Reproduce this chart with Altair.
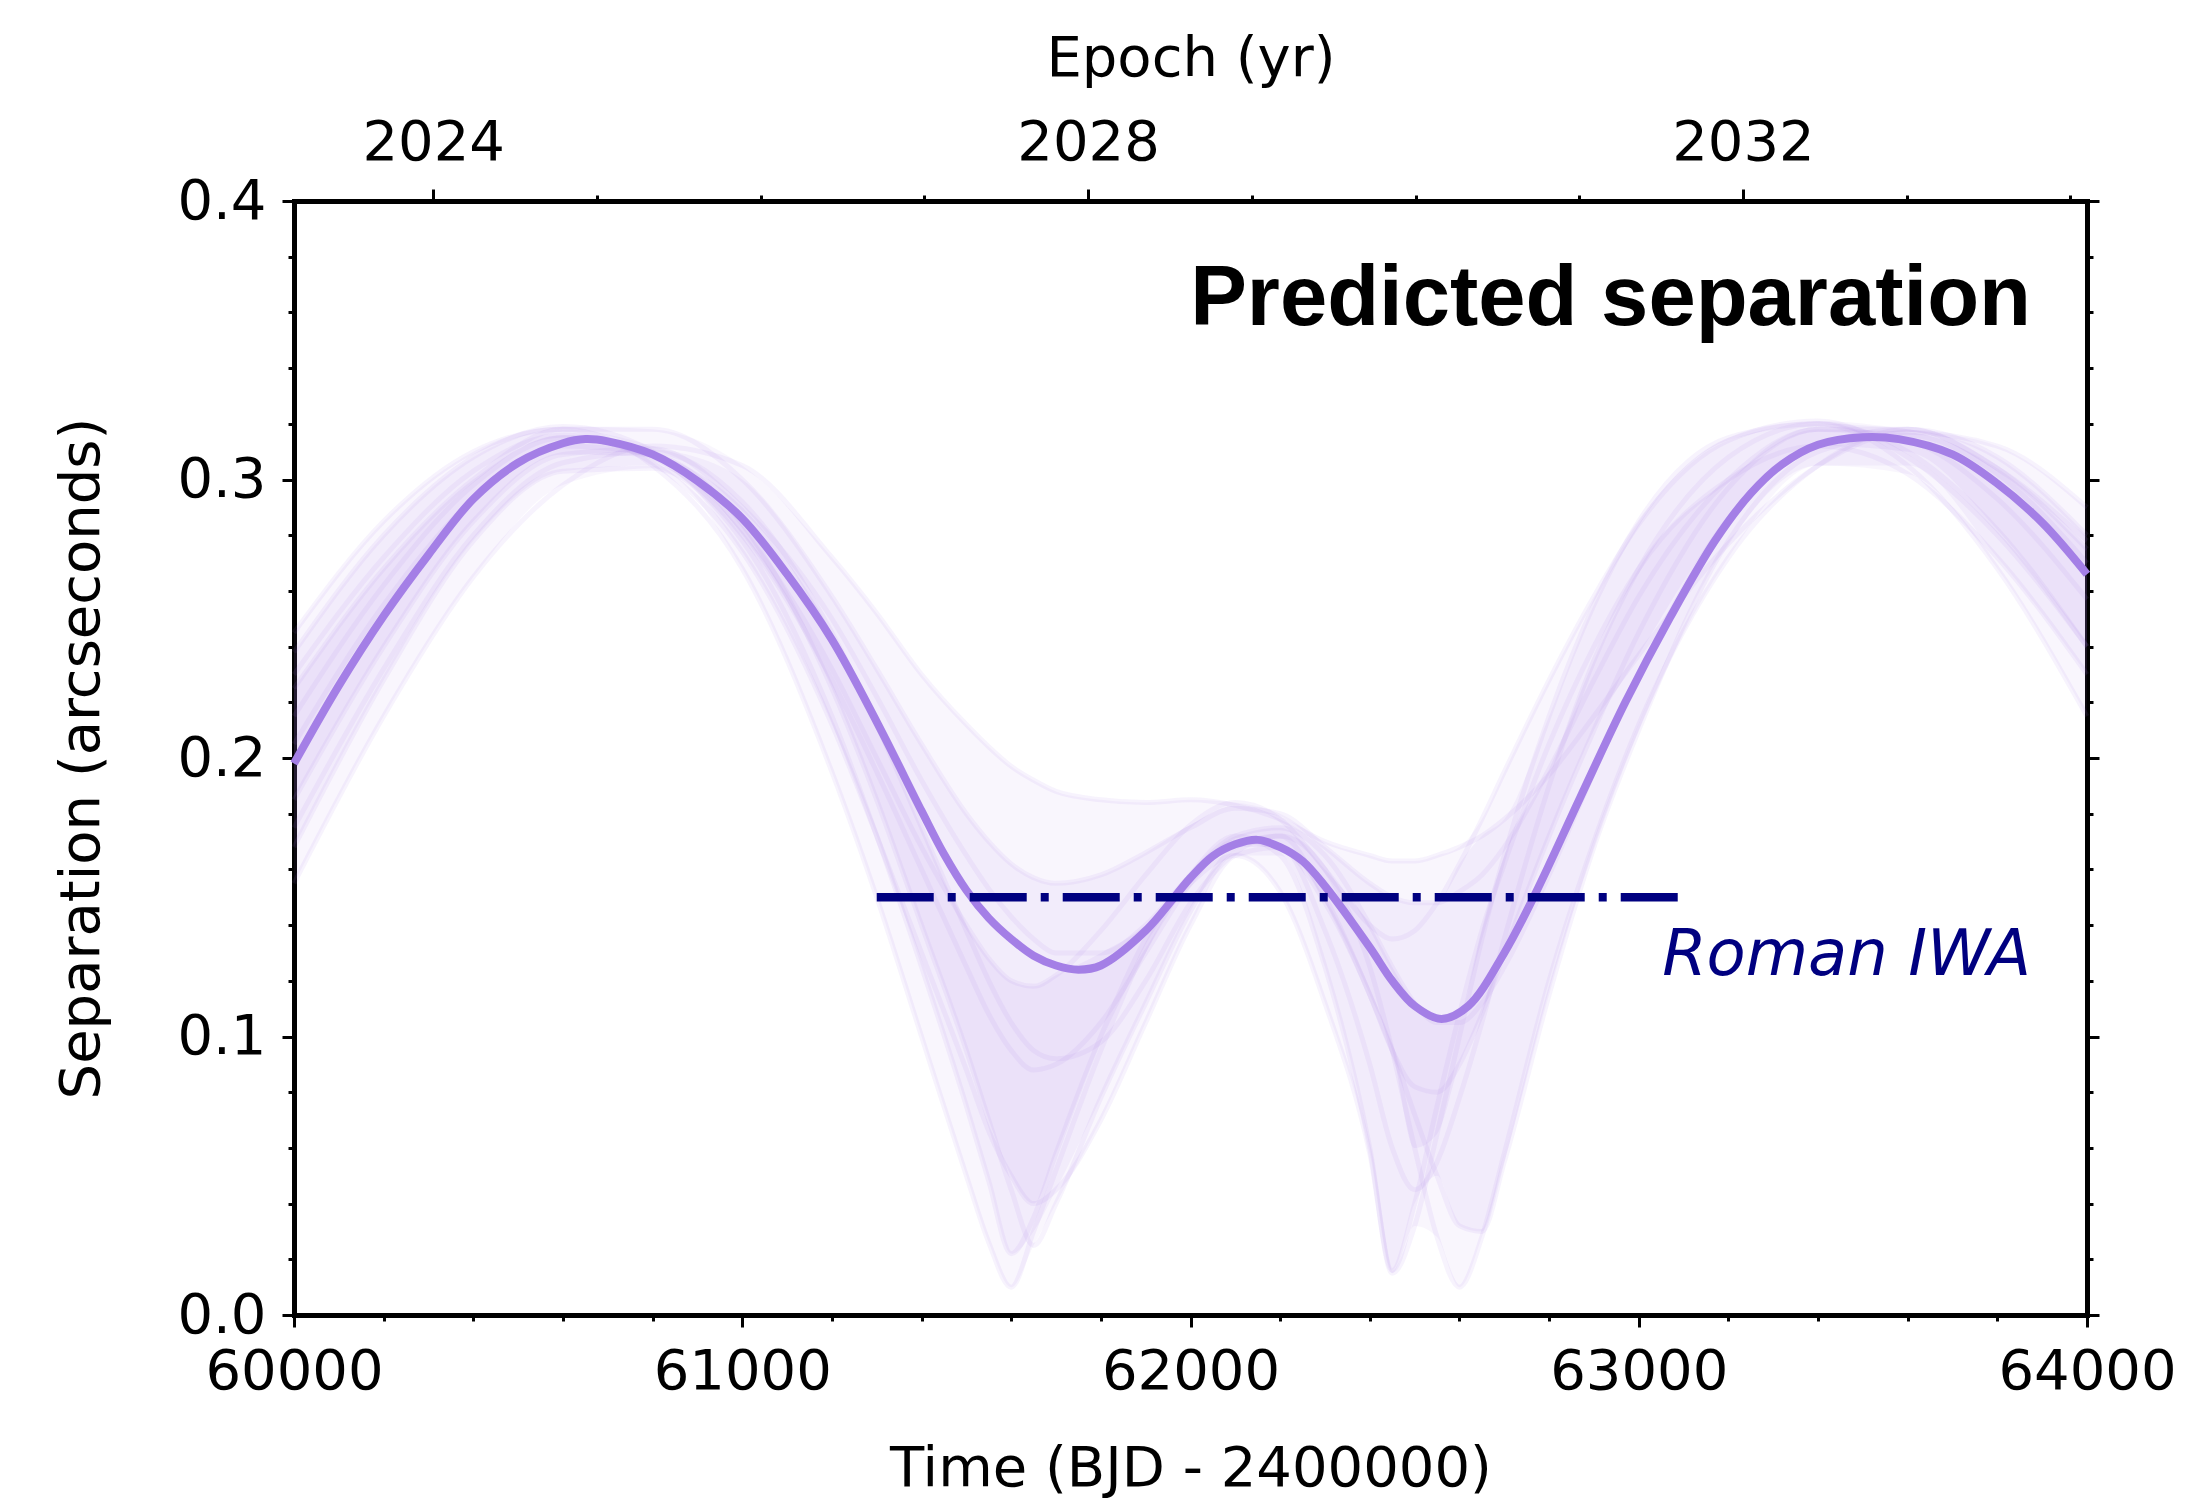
import altair as alt
import pandas as pd

# ---------------- data ----------------
main_days = [60000, 60100, 60200, 60300, 60400, 60500, 60600, 60650, 60700, 60800,
             60900, 61000, 61100, 61200, 61300, 61400, 61450, 61500, 61550, 61600,
             61650, 61700, 61750, 61800, 61900, 62000, 62050, 62100, 62150, 62200,
             62250, 62300, 62400, 62450, 62500, 62560, 62620, 62700, 62770, 62870,
             62970, 63070, 63170, 63250, 63320, 63400, 63500, 63580, 63700, 63800,
             63900, 64000]
main_sep = [0.198, 0.226, 0.251, 0.273, 0.293, 0.306, 0.313, 0.3145, 0.3137, 0.309,
            0.2995, 0.286, 0.266, 0.2425, 0.213, 0.181, 0.1655, 0.1525, 0.1425, 0.135,
            0.129, 0.1255, 0.124, 0.1255, 0.138, 0.157, 0.1648, 0.169, 0.1706, 0.168,
            0.163, 0.154, 0.132, 0.120, 0.111, 0.1063, 0.111, 0.130, 0.1515, 0.186,
            0.220, 0.2505, 0.278, 0.295, 0.3055, 0.3125, 0.3152, 0.3145, 0.309, 0.2985,
            0.2845, 0.266]

sample_days = [60000, 60200, 60400, 60600, 60800, 61000, 61200, 61300, 61400, 61500,
               61550, 61600, 61650, 61700, 61800, 61900, 62000, 62100, 62200, 62300,
               62400, 62450, 62500, 62550, 62600, 62650, 62700, 62800, 62900, 63000,
               63200, 63400, 63600, 63800, 64000]
sample_1 = [.245, .285, .310, .318, .305, .268, .195, .150, .100, .050, .026, .010, .030, .052, .095,
            .132, .158, .172, .165, .125, .060, .015, .032, .065, .100, .135, .165, .215, .255, .285,
            .315, .320, .305, .268, .215]
sample_2 = [.155, .215, .265, .298, .312, .305, .272, .252, .230, .212, .204, .197, .192, .188, .185,
            .184, .185, .183, .178, .170, .165, .163, .163, .165, .168, .172, .178, .194, .215, .237,
            .277, .305, .317, .312, .290]
sample_3 = [.215, .262, .298, .315, .308, .280, .228, .195, .160, .125, .108, .095, .088, .090, .105,
            .130, .155, .170, .168, .148, .115, .095, .082, .080, .090, .108, .130, .172, .210, .245,
            .297, .318, .314, .293, .257]
sample_4 = [.175, .232, .280, .306, .310, .292, .245, .212, .175, .138, .120, .105, .095, .092, .098,
            .120, .148, .166, .172, .160, .125, .095, .060, .028, .010, .028, .058, .120, .170, .212,
            .272, .305, .318, .308, .280]
sample_5 = [.230, .272, .303, .316, .306, .274, .212, .172, .130, .088, .066, .050, .040, .045, .070,
            .105, .140, .165, .168, .138, .090, .060, .045, .055, .078, .105, .135, .190, .235, .268,
            .308, .320, .310, .282, .240]
sample_6 = [.185, .240, .285, .309, .311, .290, .250, .222, .192, .165, .153, .143, .135, .130, .130,
            .140, .158, .172, .175, .165, .140, .125, .112, .105, .105, .112, .125, .158, .195, .230,
            .286, .312, .318, .304, .275]
sample_7 = [.205, .255, .293, .312, .309, .284, .225, .185, .140, .095, .070, .045, .025, .040, .078,
            .112, .145, .168, .172, .150, .115, .095, .072, .050, .032, .030, .055, .115, .168, .210,
            .278, .310, .316, .302, .270]
sample_8 = [.225, .268, .300, .318, .318, .300, .258, .232, .205, .180, .170, .162, .157, .155, .158,
            .166, .175, .182, .180, .168, .155, .150, .148, .148, .152, .158, .168, .196, .228, .258,
            .300, .318, .318, .304, .278]
sample_9 = [.238, .280, .308, .319, .310, .282, .232, .200, .168, .140, .128, .120, .118, .122, .138,
            .158, .176, .184, .178, .160, .140, .135, .138, .148, .162, .178, .195, .228, .258, .284,
            .314, .321, .308, .280, .240]
sample_10 = [.168, .228, .278, .303, .304, .278, .215, .172, .125, .075, .048, .022, .035, .058, .100,
             .135, .155, .165, .152, .112, .058, .016, .040, .075, .108, .138, .162, .205, .240, .268,
             .300, .312, .302, .272, .230]
samples = [sample_1, sample_2, sample_3, sample_4, sample_5,
           sample_6, sample_7, sample_8, sample_9, sample_10]

iwa_days = [61300, 63100]
iwa_sep = [0.15, 0.15]

x_major = [60000, 61000, 62000, 63000, 64000]
x_minor = list(range(60000, 64001, 200))
y_major = [0.0, 0.1, 0.2, 0.3, 0.4]
y_minor = [round(i * 0.02, 2) for i in range(21)]
yr_major = [2024, 2028, 2032]
yr_minor = list(range(2024, 2035))

# epoch conversion: BJD-2400000 of 2024-01-01 and days per year
DAY_2024 = 60310.5
DAYS_PER_YEAR = 365.25
DAY_MIN, DAY_MAX = 60000, 64000
YR_MIN = 2024 + (DAY_MIN - DAY_2024) / DAYS_PER_YEAR
YR_MAX = 2024 + (DAY_MAX - DAY_2024) / DAYS_PER_YEAR

# ---------------- styling ----------------
W, H = 1793, 1114
FONT = "DejaVu Sans"
PURPLE = "#A47FE6"
NAVY = "#000080"

common = dict(domainColor="black", domainWidth=5, domainCap="square",
              tickColor="black", tickWidth=3, labelFont=FONT, labelFontSize=56,
              labelColor="black", titleFont=FONT, titleFontSize=56,
              titleFontWeight="normal", titleColor="black", grid=False)

x_scale = alt.Scale(domain=[DAY_MIN, DAY_MAX], nice=False, zero=False)
y_scale = alt.Scale(domain=[0, 0.4], nice=False, zero=False)
yr_scale = alt.Scale(domain=[YR_MIN, YR_MAX], nice=False, zero=False)

# ---------------- frames ----------------
main_df = pd.DataFrame({"day": main_days, "sep": main_sep})
rows = []
for k, vals in enumerate(samples):
    for d, v in zip(sample_days, vals):
        rows.append({"day": d, "sep": v, "sample": k})
samp_df = pd.DataFrame(rows)

# haze bands built from the sample spread (outer, middle, inner)
band_rows = []
for i, d in enumerate(sample_days):
    col = sorted(s[i] for s in samples)
    for level, (lo, hi) in enumerate([(0, -1), (1, -2), (3, -4)]):
        band_rows.append({"day": d, "lo": col[lo], "hi": col[hi], "level": level})
band_df = pd.DataFrame(band_rows)

iwa_df = pd.DataFrame({"day": iwa_days, "sep": iwa_sep})
title_df = pd.DataFrame({"day": [63875], "sep": [0.3555], "label": ["Predicted separation"]})
iwa_lbl_df = pd.DataFrame({"day": [63875], "sep": [0.1221], "label": ["Roman IWA"]})
frame_df = pd.DataFrame({"day": [DAY_MIN, DAY_MAX], "sep": [0.0, 0.4], "year": [YR_MIN, YR_MAX]})

x_enc = alt.X("day:Q", scale=x_scale,
              axis=alt.Axis(orient="bottom", values=x_major, tickSize=12, format="d",
                            labelPadding=17, labelFlush=False,
                            title="Time (BJD - 2400000)", titleBaseline="alphabetic",
                            titleY=170, **common))
y_enc = alt.Y("lo:Q", scale=y_scale,
              axis=alt.Axis(orient="left", values=y_major, tickSize=12, format=".1f",
                            labelPadding=16, title="Separation (arcseconds)",
                            titleBaseline="alphabetic", titleX=-196, titleY=H / 2,
                            **common))

band_layers = [
    alt.Chart(band_df).transform_filter(alt.datum.level == lvl).mark_area(
        color=PURPLE, opacity=op, interpolate="monotone"
    ).encode(x=x_enc, y=y_enc, y2="hi:Q")
    for lvl, op in [(0, 0.07), (1, 0.08), (2, 0.09)]
]

samples_layer = alt.Chart(samp_df).mark_line(
    color=PURPLE, opacity=0.09, strokeWidth=5, interpolate="monotone"
).encode(x="day:Q", y="sep:Q", detail="sample:N")

main_layer = alt.Chart(main_df).mark_line(
    color=PURPLE, strokeWidth=8, interpolate="catmull-rom"
).encode(x="day:Q", y="sep:Q")

iwa_layer = alt.Chart(iwa_df).mark_line(
    color=NAVY, strokeWidth=8.5, strokeDash=[57, 14, 8, 14], strokeCap="butt"
).encode(x="day:Q", y="sep:Q")

title_layer = alt.Chart(title_df).mark_text(
    align="right", baseline="alphabetic", font="Liberation Sans", fontSize=85,
    fontWeight="bold", color="black"
).encode(x="day:Q", y="sep:Q", text="label:N")

iwa_text_layer = alt.Chart(iwa_lbl_df).mark_text(
    align="right", baseline="alphabetic", font=FONT, fontSize=64,
    fontStyle="italic", color=NAVY
).encode(x="day:Q", y="sep:Q", text="label:N")

data_layers = alt.layer(*band_layers, samples_layer, main_layer, iwa_layer,
                        title_layer, iwa_text_layer)

# minor ticks bottom / left
minor_bl = alt.Chart(frame_df).mark_point(opacity=0).encode(
    x=alt.X("day:Q", scale=x_scale,
            axis=alt.Axis(orient="bottom", values=x_minor, tickSize=6, labels=False,
                          domain=False, title="", **common)),
    y=alt.Y("sep:Q", scale=y_scale,
            axis=alt.Axis(orient="left", values=y_minor, tickSize=6, labels=False,
                          domain=False, title="", **common)),
)

# major ticks top (epoch) / right
major_tr = alt.Chart(frame_df).mark_point(opacity=0).encode(
    x=alt.X("year:Q", scale=yr_scale,
            axis=alt.Axis(orient="top", values=yr_major, tickSize=12, format="d",
                          labelPadding=18, labelFlush=False, title="Epoch (yr)",
                          titleBaseline="alphabetic", titleY=-126, **common)),
    y=alt.Y("sep:Q", scale=y_scale,
            axis=alt.Axis(orient="right", values=y_major, tickSize=12, labels=False,
                          title="", **common)),
)

# minor ticks top / right
minor_tr = alt.Chart(frame_df).mark_point(opacity=0).encode(
    x=alt.X("year:Q", scale=yr_scale,
            axis=alt.Axis(orient="top", values=yr_minor, tickSize=6, labels=False,
                          domain=False, title="", **common)),
    y=alt.Y("sep:Q", scale=y_scale,
            axis=alt.Axis(orient="right", values=y_minor, tickSize=6, labels=False,
                          domain=False, title="", **common)),
)

chart = alt.layer(data_layers, minor_bl, major_tr, minor_tr).resolve_scale(
    x="independent", y="independent"
).properties(
    width=W, height=H,
    autosize=alt.AutoSizeParams(type="none"),
    padding={"left": 286, "top": 193, "right": 92, "bottom": 183},
    background="white",
).configure_view(stroke=None)

chart.save("out.html", embed_options={"renderer": "svg", "actions": False})
